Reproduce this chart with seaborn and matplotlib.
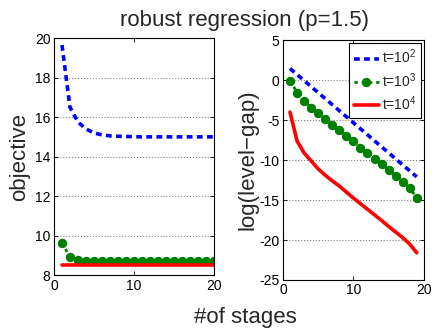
import matplotlib
matplotlib.use("Agg")
import matplotlib.pyplot as plt
import seaborn as sns

# objective vs number of stages (left panel)
stages = [1, 2, 3, 4, 5, 6, 7, 8, 9, 10, 11, 12, 13, 14, 15, 16, 17, 18, 19, 20]
obj_t100 = [19.65, 16.5, 15.75, 15.4, 15.2, 15.1, 15.05, 15.03, 15.02, 15.01,
            15.0, 15.0, 15.0, 15.0, 15.0, 15.0, 15.0, 15.0, 15.0, 15.0]
obj_t1000 = [9.64, 8.9, 8.76, 8.72, 8.71, 8.71, 8.7, 8.7, 8.7, 8.7,
             8.7, 8.7, 8.7, 8.7, 8.7, 8.7, 8.7, 8.7, 8.7, 8.7]
obj_t10000 = [8.5, 8.5, 8.5, 8.5, 8.5, 8.5, 8.5, 8.5, 8.5, 8.5,
              8.5, 8.5, 8.5, 8.5, 8.5, 8.5, 8.5, 8.5, 8.5, 8.5]

# log(level-gap) vs number of stages (right panel)
gap_stages = [1, 2, 3, 4, 5, 6, 7, 8, 9, 10, 11, 12, 13, 14, 15, 16, 17, 18, 19]
gap_t100 = [1.45, 0.7, -0.06, -0.81, -1.56, -2.32, -3.07, -3.82, -4.57, -5.33,
            -6.08, -6.83, -7.59, -8.34, -9.09, -9.84, -10.6, -11.35, -12.1]
gap_t1000 = [-0.05, -1.55, -2.6, -3.45, -4.17, -4.88, -5.6, -6.27, -7.0, -7.65,
             -8.45, -9.1, -9.83, -10.54, -11.25, -12.0, -12.7, -13.55, -14.7]
gap_t10000 = [-4.0, -7.6, -9.1, -10.1, -11.1, -11.9, -12.6, -13.25, -14.0, -14.75,
              -15.45, -16.15, -16.85, -17.55, -18.3, -19.0, -19.7, -20.5, -21.6]

labels = ["t=10$^2$", "t=10$^3$", "t=10$^4$"]

sns.set_style("ticks")
plt.rcParams["font.family"] = ["Liberation Sans", "DejaVu Sans"]
plt.rcParams["mathtext.default"] = "regular"
plt.rcParams["axes.unicode_minus"] = False

fig = plt.figure(figsize=(4.32, 3.29), dpi=100)
ax1 = fig.add_axes([0.125, 0.164, 0.370, 0.720])
ax2 = fig.add_axes([0.655, 0.149, 0.326, 0.729])

blue_ls = (0, (1.6, 1.2))
green_ls = (0, (1.2, 1.4))

# left panel
sns.lineplot(x=stages, y=obj_t100, ax=ax1, color="blue", lw=2.6, linestyle=blue_ls)
sns.lineplot(x=stages, y=obj_t1000, ax=ax1, color="#008000", lw=2, linestyle=green_ls,
             marker="o", markersize=6, markeredgecolor="#008000")
sns.lineplot(x=stages, y=obj_t10000, ax=ax1, color="red", lw=2.6)
ax1.set_xlim(0, 20)
ax1.set_ylim(8, 20)
ax1.set_yticks([8, 10, 12, 14, 16, 18, 20])

# right panel
sns.lineplot(x=gap_stages, y=gap_t100, ax=ax2, color="blue", lw=2.6, linestyle=blue_ls,
             label=labels[0])
sns.lineplot(x=gap_stages, y=gap_t1000, ax=ax2, color="#008000", lw=2, linestyle=green_ls,
             marker="o", markersize=6, markeredgecolor="#008000", label=labels[1])
sns.lineplot(x=gap_stages, y=gap_t10000, ax=ax2, color="red", lw=2.6, label=labels[2])
ax2.set_xlim(0, 20)
ax2.set_ylim(-25, 5)
ax2.set_yticks([-25, -20, -15, -10, -5, 0, 5])
ax2.legend(loc="upper right", fontsize=10, frameon=True, fancybox=False,
           edgecolor="black", framealpha=1, handlelength=1.8, handletextpad=0.2,
           borderaxespad=0.2, labelspacing=0.35, borderpad=0.35)
ax2.get_legend().get_frame().set_linewidth(0.8)

for ax in (ax1, ax2):
    ax.set_xticks([0, 10, 20])
    ax.tick_params(direction="in", top=True, right=True, labelsize=10,
                   length=3, width=0.6, pad=2.5, colors="black")
    ax.yaxis.grid(True, linestyle=":", color="gray", lw=0.8)
    ax.xaxis.grid(False)
    for s in ax.spines.values():
        s.set_color("black")
        s.set_linewidth(0.8)

fig.text(0.567, 0.921, "robust regression (p=1.5)", ha="center", va="baseline", fontsize=16)
fig.text(0.569, 0.018, "#of stages", ha="center", va="baseline", fontsize=16)
fig.text(0.046, 0.524, "objective", rotation=90, ha="center", va="center", fontsize=16)
fig.text(0.574, 0.514, "log(level\u2212gap)", rotation=90, ha="center", va="center", fontsize=16)

fig.savefig("out.png", dpi=100)
